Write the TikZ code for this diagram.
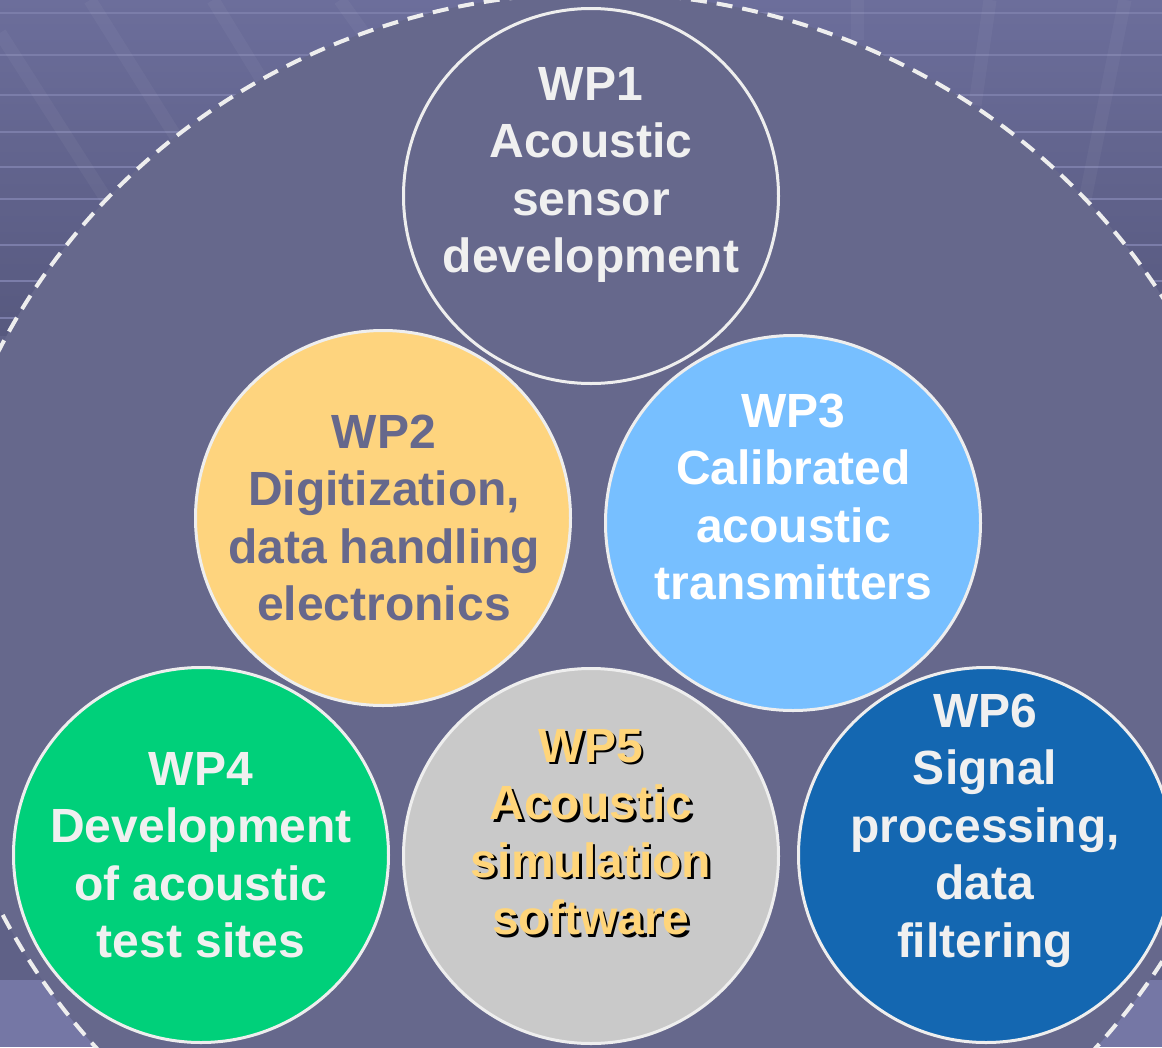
\documentclass[tikz,border=0pt]{standalone}
\usepackage{fontspec}
\setmainfont{Liberation Sans}
\definecolor{bgin}{HTML}{66688C}
\definecolor{bgmid}{HTML}{5F6187}
\definecolor{bgtopc}{HTML}{6C6E9B}
\definecolor{bgdark}{HTML}{57597F}
\definecolor{bglow}{HTML}{7577A5}
\definecolor{slat}{HTML}{7B7DA9}
\definecolor{circborder}{HTML}{EEEEEE}
\definecolor{lighttext}{HTML}{F0F0F0}
\definecolor{wptwo}{HTML}{FED47E}
\definecolor{wpthree}{HTML}{77BFFF}
\definecolor{wpfour}{HTML}{00D07A}
\definecolor{wpfive}{HTML}{C9C9C9}
\definecolor{wpsix}{HTML}{1467B1}
\definecolor{wpfivetext}{HTML}{FFD57A}
\tikzset{
  wpcircle/.style={circle, draw=circborder, line width=3pt, minimum size=375pt, inner sep=0pt},
  wptext/.style={anchor=north, align=center, inner sep=0pt,
    font=\fontsize{48pt}{57.5pt}\selectfont\bfseries},
  slatline/.style={slat, line width=2.5pt},
  strip/.style={white, opacity=0.04, line width=13pt},
  dashring/.style={circborder, line width=4pt, dash pattern=on 16pt off 10pt},
}
\newcommand{\topstrut}{\rule{0pt}{40pt}}
\begin{document}
\begin{tikzpicture}[x=1pt,y=-1pt]
\useasboundingbox (0,0) rectangle (1162,1047);
% background outside the ring
\fill[bgmid] (0,0) rectangle (1162,1047);
\shade[top color=bgtopc, bottom color=bgdark] (0,0) rectangle (1162,335);
\fill[bglow] (0,980) rectangle (1162,1047);
\foreach \yy in {13,55,95,132,167,199,245,281,318} {
  \draw[slatline] (0,\yy) -- (1162,\yy);
}
\draw[strip] (0,33) -- (110,205);
\draw[strip] (90,0) -- (178,140);
\draw[strip] (213,0) -- (262,80);
\draw[strip] (340,0) -- (365,35);
\draw[strip] (857,0) -- (857,40);
\draw[strip] (990,0) -- (975,105);
\draw[strip] (1125,0) -- (1085,200);
% inner ring
\fill[bgin] (596,629) ellipse [x radius=664pt, y radius=636pt];
\draw[dashring] (596,629) ellipse [x radius=664pt, y radius=636pt];
% circles
\node[wpcircle, fill=bgin]    (c1) at (591,196) {};
\node[wpcircle, fill=wptwo]   (c2) at (383,518) {};
\node[wpcircle, fill=wpthree] (c3) at (793,523) {};
\node[wpcircle, fill=wpfour]  (c4) at (201,855) {};
\node[wpcircle, fill=wpfive]  (c5) at (591,856) {};
\node[wpcircle, fill=wpsix]   (c6) at (986,855) {};
% texts
\node[wptext, text=lighttext] (t1) at (591,60)
  {\topstrut WP1\\Acoustic\\sensor\\development};
\node[wptext, text=bgin] (t2) at (384,408)
  {\topstrut WP2\\Digitization,\\data handling\\electronics};
\node[wptext, text=white] (t3) at (793.5,387)
  {\topstrut WP3\\Calibrated\\acoustic\\transmitters};
\node[wptext, text=lighttext] (t4) at (201,745)
  {\topstrut WP4\\Development\\of acoustic\\test sites};
\node[wptext, text=black] (t5s) at (593.5,724.5)
  {\topstrut WP5\\Acoustic\\simulation\\software};
\node[wptext, text=wpfivetext] (t5) at (591,722)
  {\topstrut WP5\\Acoustic\\simulation\\software};
\node[wptext, text=lighttext] (t6) at (985,687)
  {\topstrut WP6\\Signal\\processing,\\data\\filtering};
\end{tikzpicture}
\end{document}
